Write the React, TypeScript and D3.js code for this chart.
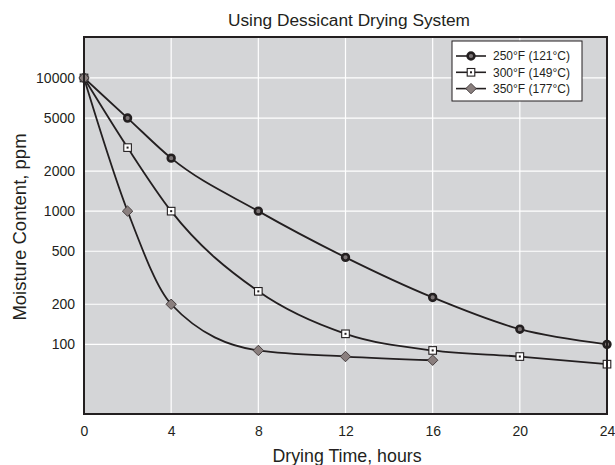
import React, { useEffect, useRef } from 'react';
import * as d3 from 'd3';

const hours = [0, 2, 4, 8, 12, 16, 20, 24];
const temp250 = [10000, 5000, 2500, 1000, 450, 225, 130, 100];
const temp300 = [10000, 3000, 1000, 250, 120, 90, 81, 71];
const temp350 = [10000, 1000, 200, 90, 81, 76];
const seriesNames = ['250°F (121°C)', '300°F (149°C)', '350°F (177°C)'];
const xTicks = [0, 4, 8, 12, 16, 20, 24];
const yTicks = [100, 200, 500, 1000, 2000, 5000, 10000];

const ink = '#231f20';

const App = () => {
  const ref = useRef<SVGSVGElement>(null);

  useEffect(() => {
    const svg = d3.select(ref.current);
    svg.selectAll('*').remove();

    const width = 615;
    const height = 465;
    const margin = { top: 37, right: 8, bottom: 51, left: 84 };
    const font = '"Liberation Sans", Arial, sans-serif';

    const x = d3.scaleLinear().domain([0, 24]).range([margin.left, width - margin.right]);
    const y = d3.scaleLog().domain([30, 20300]).range([height - margin.bottom, margin.top]);

    const series = [temp250, temp300, temp350].map((vals, i) => ({
      name: seriesNames[i],
      kind: i,
      points: vals.map((v, j) => ({ h: hours[j], v })),
    }));

    // plot background
    svg.append('rect')
      .attr('x', margin.left).attr('y', margin.top)
      .attr('width', width - margin.right - margin.left)
      .attr('height', height - margin.bottom - margin.top)
      .attr('fill', '#d4d5d7');

    // grid
    const grid = svg.append('g').attr('stroke', '#fff').attr('stroke-width', 1.2);
    xTicks.forEach(t => {
      grid.append('line')
        .attr('x1', x(t)).attr('x2', x(t))
        .attr('y1', margin.top).attr('y2', height - margin.bottom);
    });
    yTicks.forEach(t => {
      grid.append('line')
        .attr('x1', margin.left).attr('x2', width - margin.right)
        .attr('y1', y(t)).attr('y2', y(t));
    });

    // tick labels
    const xAxis = svg.append('g')
      .attr('transform', `translate(0,${height - margin.bottom})`)
      .call(d3.axisBottom(x).tickValues(xTicks).tickSize(0).tickPadding(12));
    const yAxis = svg.append('g')
      .attr('transform', `translate(${margin.left},0)`)
      .call(d3.axisLeft(y).tickValues(yTicks).tickFormat(d3.format('d')).tickSize(0).tickPadding(9));
    [xAxis, yAxis].forEach(a => {
      a.select('.domain').remove();
      a.selectAll('text')
        .attr('font-family', font)
        .attr('font-size', 14)
        .attr('fill', ink);
    });

    // lines
    const line = d3.line<{ h: number; v: number }>()
      .x(d => x(d.h))
      .y(d => y(d.v))
      .curve(d3.curveMonotoneX);

    series.forEach(s => {
      svg.append('path')
        .datum(s.points)
        .attr('fill', 'none')
        .attr('stroke', ink)
        .attr('stroke-width', 1.8)
        .attr('d', line);
    });

    const drawMarker = (g, kind, cx, cy) => {
      if (kind === 0) {
        g.append('circle')
          .attr('cx', cx).attr('cy', cy).attr('r', 3.4)
          .attr('fill', '#7d7677').attr('stroke', ink).attr('stroke-width', 2.6);
      } else if (kind === 1) {
        g.append('rect')
          .attr('x', cx - 3.8).attr('y', cy - 3.8)
          .attr('width', 7.6).attr('height', 7.6)
          .attr('fill', '#fff').attr('stroke', ink).attr('stroke-width', 1.1);
        g.append('rect')
          .attr('x', cx - 1).attr('y', cy - 1)
          .attr('width', 2).attr('height', 2)
          .attr('fill', ink);
      } else {
        const r = 5.2;
        g.append('path')
          .attr('d', `M${cx},${cy - r}L${cx + r},${cy}L${cx},${cy + r}L${cx - r},${cy}Z`)
          .attr('fill', '#8a7f7e').attr('stroke', '#3b3334').attr('stroke-width', 0.9);
      }
    };

    series.forEach(s => {
      const g = svg.append('g');
      s.points.forEach(p => drawMarker(g, s.kind, x(p.h), y(p.v)));
    });

    // plot frame
    svg.append('rect')
      .attr('x', margin.left).attr('y', margin.top)
      .attr('width', width - margin.right - margin.left)
      .attr('height', height - margin.bottom - margin.top)
      .attr('fill', 'none')
      .attr('stroke', ink)
      .attr('stroke-width', 2);

    // legend
    const lx = 452;
    const ly = 41;
    const legend = svg.append('g');
    legend.append('rect')
      .attr('x', lx).attr('y', ly).attr('width', 130).attr('height', 60)
      .attr('fill', '#fff').attr('stroke', ink).attr('stroke-width', 1);
    series.forEach((s, i) => {
      const ry = ly + 15 + i * 16.3;
      legend.append('line')
        .attr('x1', lx + 4).attr('x2', lx + 34)
        .attr('y1', ry).attr('y2', ry)
        .attr('stroke', ink).attr('stroke-width', 1.6);
      drawMarker(legend, s.kind, lx + 19, ry);
      legend.append('text')
        .attr('x', lx + 41).attr('y', ry)
        .attr('dy', '0.35em')
        .attr('font-family', font).attr('font-size', 12)
        .attr('fill', ink)
        .text(s.name);
    });

    // titles
    svg.append('text')
      .attr('x', 349).attr('y', 26)
      .attr('text-anchor', 'middle')
      .attr('font-family', font).attr('font-size', 17.3)
      .attr('fill', ink)
      .text('Using Dessicant Drying System');

    svg.append('text')
      .attr('x', 347).attr('y', 462)
      .attr('text-anchor', 'middle')
      .attr('font-family', font).attr('font-size', 17.8)
      .attr('fill', ink)
      .text('Drying Time, hours');

    svg.append('text')
      .attr('transform', `translate(26,227) rotate(-90)`)
      .attr('text-anchor', 'middle')
      .attr('font-family', font).attr('font-size', 18.5)
      .attr('fill', ink)
      .text('Moisture Content, ppm');
  }, []);

  return (
    <svg
      ref={ref}
      width={615}
      height={465}
      style={{ position: 'absolute', left: 0, top: 0, background: '#fff' }}
    ></svg>
  );
};

export default App;
